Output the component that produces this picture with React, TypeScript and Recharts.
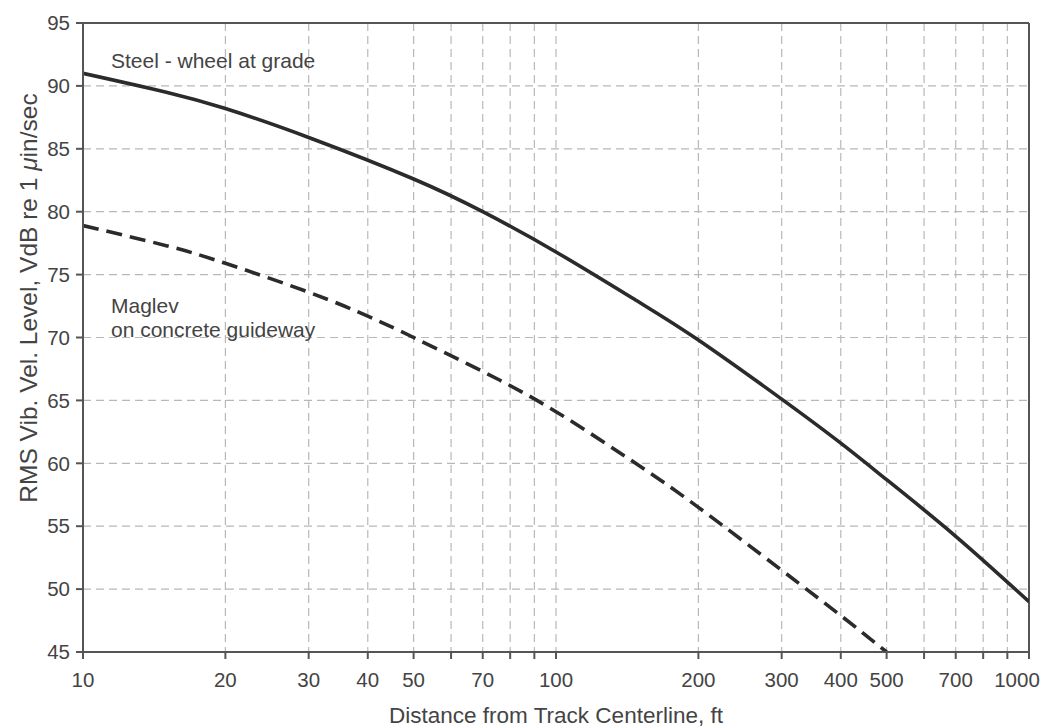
import { LineChart, Line, XAxis, YAxis, CartesianGrid, ReferenceLine } from "recharts"

// distance from track centerline, ft
const steelDistance = [10, 15, 20, 30, 50, 70, 100, 150, 200, 300, 400, 500, 700, 1000]
const steelLevel = [91, 89.5, 88.2, 85.9, 82.6, 80, 76.8, 72.8, 69.8, 65.1, 61.6, 58.7, 54.2, 49]

const maglevDistance = [10, 15, 20, 30, 40, 50, 70, 100, 150, 200, 300, 400, 500]
const maglevLevel = [78.9, 77.3, 75.9, 73.6, 71.7, 70, 67.3, 64.1, 59.8, 56.5, 51.5, 47.9, 45]

const xTicks = [10, 20, 30, 40, 50, 60, 70, 80, 90, 100, 200, 300, 400, 500, 600, 700, 800, 900, 1000]
const xLabels = [10, 20, 30, 40, 50, 70, 100, 200, 300, 400, 500, 700, 1000]
const yTicks = [45, 50, 55, 60, 65, 70, 75, 80, 85, 90, 95]

const steelData = steelDistance.map((x, i) => ({ x, y: steelLevel[i] }))
const maglevData = maglevDistance.map((x, i) => ({ x, y: maglevLevel[i] }))

const font = "'Liberation Sans', Arial, sans-serif"
const textColor = "#444"
const lineColor = "#2b2b2b"
const axisColor = "#555"
const tickFont = 20.5

function XTick(props: any) {
  const { x, y, payload } = props
  if (!xLabels.includes(payload.value)) return null
  // last label is pulled left so it stays inside the picture
  const shift = payload.value === 1000 ? -12 : 0
  return (
    <text x={x + shift} y={y} dy="0.71em" textAnchor="middle" fontSize={tickFont} fill={textColor} fontFamily={font}>
      {payload.value}
    </text>
  )
}

function XTitle(props: any) {
  const { viewBox } = props
  return (
    <text
      x={viewBox.x + viewBox.width / 2}
      y={723}
      textAnchor="middle"
      fontSize={22.5}
      fill={textColor}
      fontFamily={font}
    >
      Distance from Track Centerline, ft
    </text>
  )
}

function YTitle() {
  const cx = 28
  const cy = 298
  return (
    <text
      x={cx}
      y={cy}
      transform={`rotate(-90 ${cx} ${cy})`}
      textAnchor="middle"
      dominantBaseline="central"
      fontSize={24.5}
      fill={textColor}
      fontFamily={font}
    >
      RMS Vib. Vel. Level, VdB re 1 <tspan fontStyle="italic">μ</tspan>in/sec
    </text>
  )
}

export default function App() {
  return (
    <div style={{ position: "absolute", left: 0, top: 0, width: 1042, height: 727, background: "#fff", fontFamily: font }}>
      <LineChart width={1042} height={727} margin={{ top: 23, right: 13, left: 0, bottom: 0 }}>
        <CartesianGrid stroke="#b8b8b8" strokeDasharray="8 5" strokeWidth={1.2} />
        <XAxis
          dataKey="x"
          type="number"
          scale="log"
          domain={[10, 1000]}
          ticks={xTicks}
          interval={0}
          allowDataOverflow
          height={75}
          tickSize={7}
          tickMargin={13}
          stroke={axisColor}
          strokeWidth={2}
          tick={<XTick />}
          label={<XTitle />}
        />
        <YAxis
          dataKey="y"
          type="number"
          domain={[45, 95]}
          ticks={yTicks}
          interval={0}
          allowDataOverflow
          width={83}
          tickSize={7}
          tickMargin={6}
          stroke={axisColor}
          strokeWidth={2}
          tick={{ fontSize: tickFont, fill: textColor, fontFamily: font }}
          label={<YTitle />}
        />
        <ReferenceLine y={95} stroke={axisColor} strokeWidth={2} />
        <ReferenceLine x={1000} stroke={axisColor} strokeWidth={2} />
        <Line
          data={steelData}
          dataKey="y"
          type="natural"
          stroke={lineColor}
          strokeWidth={3.6}
          dot={false}
          isAnimationActive={false}
        />
        <Line
          data={maglevData}
          dataKey="y"
          type="natural"
          stroke={lineColor}
          strokeWidth={3.6}
          strokeDasharray="16 8"
          dot={false}
          isAnimationActive={false}
        />
      </LineChart>
      <div style={{ position: "absolute", left: 111, top: 50, fontSize: 21, lineHeight: "21px", color: textColor, whiteSpace: "nowrap" }}>
        Steel - wheel at grade
      </div>
      <div style={{ position: "absolute", left: 111, top: 294, fontSize: 21, lineHeight: "24px", color: textColor, whiteSpace: "nowrap" }}>
        Maglev
        <br />
        on concrete guideway
      </div>
    </div>
  )
}
